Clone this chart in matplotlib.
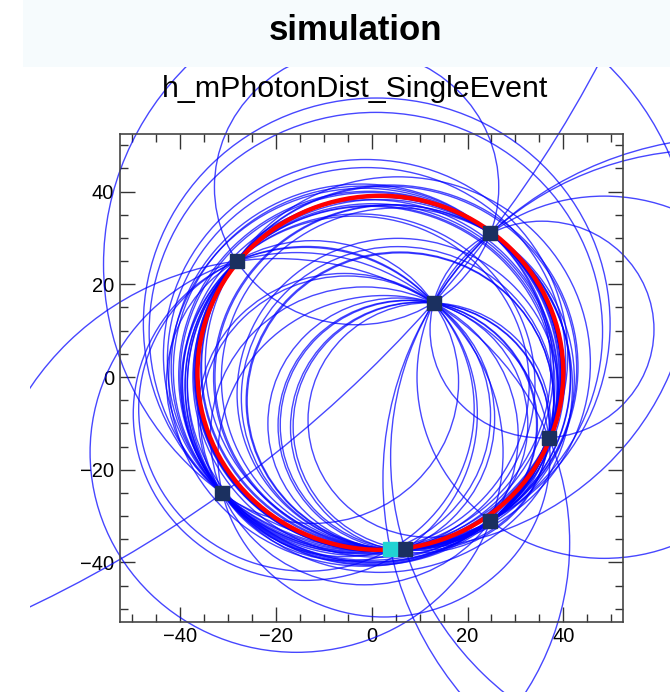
import itertools
import numpy as np
import matplotlib
matplotlib.use('Agg')
import matplotlib.pyplot as plt
from matplotlib.patches import Circle, Rectangle
from matplotlib.ticker import MultipleLocator

# detected photon hits (mm)
hit_x = [-28.2, 24.8, 12.9, 37.0, -31.2, 24.8, 7.0]
hit_y = [25.0, 31.0, 16.0, -13.1, -25.1, -31.1, -37.2]
# reference hit drawn in cyan
ref_x = [3.9]
ref_y = [-37.2]
# fitted ring
ring_center = (1.8, 0.9)
ring_radius = 38.2


def circumcircle(p1, p2, p3):
    ax_, ay = p1
    bx, by = p2
    cx, cy = p3
    d = 2 * (ax_ * (by - cy) + bx * (cy - ay) + cx * (ay - by))
    if abs(d) < 1e-9:
        return None
    ux = ((ax_**2 + ay**2) * (by - cy) + (bx**2 + by**2) * (cy - ay) + (cx**2 + cy**2) * (ay - by)) / d
    uy = ((ax_**2 + ay**2) * (cx - bx) + (bx**2 + by**2) * (ax_ - cx) + (cx**2 + cy**2) * (bx - ax_)) / d
    r = np.hypot(ax_ - ux, ay - uy)
    return ux, uy, r


plt.rcParams['font.family'] = ['Liberation Sans', 'DejaVu Sans']

fig = plt.figure(figsize=(6.7, 6.92), dpi=100)
ax = fig.add_axes([0.179, 0.1016, 0.751, 0.7045])

# area where the circles may be drawn (below the title banner)
clip = Rectangle((30 / 670, 0), 1 - 30 / 670, 1 - 67 / 692, transform=fig.transFigure,
                 facecolor='none', edgecolor='none')
fig.add_artist(clip)

# one circle through every triple of hits
points = list(zip(hit_x + ref_x, hit_y + ref_y))
for tri in itertools.combinations(points, 3):
    c = circumcircle(*tri)
    if c is None:
        continue
    circ = Circle((c[0], c[1]), c[2], fill=False, ec='blue', lw=1.0, alpha=0.72, zorder=2)
    ax.add_patch(circ)
    circ.set_clip_path(clip)

red = Circle(ring_center, ring_radius, fill=False, ec='red', lw=3.2, zorder=3)
ax.add_patch(red)

ax.plot(hit_x, hit_y, 's', color='#1b3060', ms=10, zorder=4)
ax.plot(ref_x, ref_y, 's', color='#22d3d3', ms=10, zorder=4)

ax.set_xlim(-52.6, 52.5)
ax.set_ylim(-52.8, 52.4)

ax.xaxis.set_major_locator(MultipleLocator(20))
ax.xaxis.set_minor_locator(MultipleLocator(5))
ax.yaxis.set_major_locator(MultipleLocator(20))
ax.yaxis.set_minor_locator(MultipleLocator(5))
ax.tick_params(which='both', direction='in', top=True, right=True, color='#333333', width=1.0)
ax.tick_params(which='major', length=10.5, labelsize=14.5, pad=4)
ax.tick_params(which='minor', length=5.5)
for s in ax.spines.values():
    s.set_color('#444444')
    s.set_linewidth(1.2)

# banner + titles
fig.add_artist(Rectangle((23 / 670, 1 - 67 / 692), 1 - 23 / 670, 67 / 692, transform=fig.transFigure,
                         facecolor='#f6fbfd', edgecolor='none'))
fig.text(355 / 670, 1 - 30 / 692, 'simulation', ha='center', va='center', fontsize=25, fontweight='bold')
fig.text(355 / 670, 1 - 89 / 692, 'h_mPhotonDist_SingleEvent', ha='center', va='center', fontsize=21.9)

plt.savefig('out.png', dpi=100)
